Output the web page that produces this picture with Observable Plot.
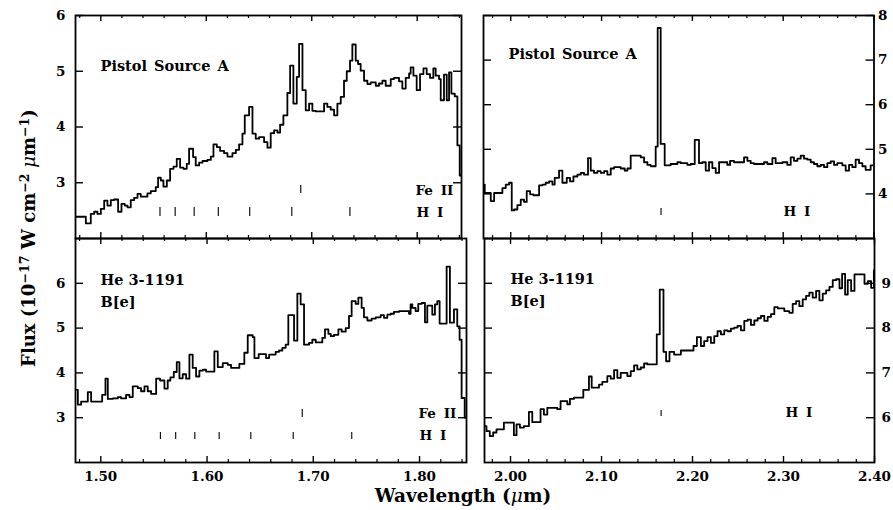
<!DOCTYPE html>
<html><head><meta charset="utf-8">
<script src="https://cdn.jsdelivr.net/npm/d3@7"></script>
<script src="https://cdn.jsdelivr.net/npm/@observablehq/plot@0.6"></script>
<style>
html,body{margin:0;padding:0;background:#fff;}
#chart{position:relative;width:893px;height:510px;overflow:hidden;}
#chart svg{position:absolute;}
</style></head><body><div id="chart"></div>
<script>
// ---------- data (step left edges in µm, flux in 1e-17 W cm^-2 µm^-1) ----------
const tlWave = [1.4760,1.4858,1.4905,1.4937,1.4968,1.5000,1.5032,1.5063,1.5095,1.5126,1.5164,1.5196,1.5227,1.5253,1.5284,1.5316,1.5348,1.5379,1.5442,1.5474,1.5521,1.5543,1.5569,1.5594,1.5626,1.5657,1.5689,1.5720,1.5752,1.5784,1.5815,1.5837,1.5875,1.5900,1.5932,1.5964,1.6011,1.6043,1.6068,1.6100,1.6131,1.6169,1.6201,1.6248,1.6280,1.6311,1.6343,1.6365,1.6406,1.6438,1.6469,1.6501,1.6548,1.6580,1.6611,1.6643,1.6675,1.6700,1.6731,1.6769,1.6795,1.6826,1.6858,1.6880,1.6912,1.6943,1.6975,1.7006,1.7038,1.7117,1.7148,1.7180,1.7212,1.7243,1.7275,1.7306,1.7332,1.7363,1.7385,1.7417,1.7439,1.7464,1.7496,1.7528,1.7559,1.7607,1.7638,1.7670,1.7701,1.7749,1.7780,1.7828,1.7859,1.7891,1.7923,1.7938,1.7964,1.7995,1.8027,1.8059,1.8090,1.8122,1.8153,1.8175,1.8207,1.8223,1.8254,1.8280,1.8302,1.8324,1.8356,1.8381,1.8403,1.8420];
const tlFlux = [2.39,2.27,2.44,2.48,2.44,2.53,2.68,2.59,2.69,2.70,2.48,2.62,2.59,2.56,2.69,2.73,2.80,2.75,2.81,2.85,2.92,3.09,3.04,2.93,3.04,3.25,3.29,3.43,3.27,3.25,3.34,3.61,3.46,3.31,3.36,3.39,3.41,3.47,3.69,3.64,3.57,3.53,3.47,3.53,3.59,3.69,3.88,4.21,4.36,3.88,3.79,3.82,3.73,3.63,3.89,3.94,3.90,4.04,4.21,4.61,5.10,4.42,4.90,5.49,4.66,4.30,4.42,4.29,4.28,4.42,4.36,4.31,4.21,4.42,4.54,4.83,5.00,5.19,5.48,5.19,5.13,5.01,4.83,4.77,4.80,4.74,4.78,4.83,4.74,4.86,4.88,4.82,4.69,4.88,4.96,5.07,4.92,4.66,4.95,5.05,4.95,4.88,5.05,4.92,4.86,4.48,4.94,4.48,4.98,4.60,4.55,3.67,3.13,3.13];

const trWave = [1.9700,1.9714,1.9780,1.9817,1.9908,1.9945,1.9982,2.0011,2.0037,2.0073,2.0110,2.0147,2.0176,2.0213,2.0250,2.0312,2.0349,2.0385,2.0422,2.0459,2.0484,2.0532,2.0569,2.0617,2.0653,2.0690,2.0734,2.0771,2.0807,2.0851,2.0881,2.0917,2.0954,2.0991,2.1028,2.1064,2.1101,2.1138,2.1211,2.1255,2.1284,2.1321,2.1431,2.1468,2.1505,2.1541,2.1596,2.1618,2.1651,2.1695,2.1761,2.1835,2.1872,2.1945,2.1982,2.2026,2.2073,2.2110,2.2147,2.2183,2.2220,2.2257,2.2294,2.2385,2.2415,2.2459,2.2569,2.2606,2.2642,2.2679,2.2789,2.2826,2.2881,2.2917,2.2991,2.3046,2.3083,2.3119,2.3156,2.3193,2.3229,2.3266,2.3303,2.3339,2.3376,2.3413,2.3450,2.3486,2.3523,2.3560,2.3596,2.3651,2.3688,2.3725,2.3761,2.3798,2.3835,2.3872,2.3908,2.3963,2.4000];
const trFlux = [4.21,4.02,3.84,4.02,4.13,4.21,4.25,3.63,3.65,3.75,3.87,3.82,4.06,3.99,3.97,4.19,4.21,4.25,4.28,4.21,4.36,4.52,4.25,4.36,4.28,4.39,4.43,4.47,4.43,4.80,4.52,4.47,4.51,4.47,4.51,4.43,4.57,4.60,4.57,4.52,4.57,4.86,4.82,4.71,4.65,4.62,5.06,7.72,5.12,4.64,4.67,4.71,4.69,4.65,4.67,5.21,4.69,4.71,4.52,4.71,4.58,4.47,4.71,4.65,4.74,4.71,4.82,4.74,4.69,4.67,4.71,4.67,4.80,4.69,4.71,4.65,4.82,4.74,4.79,4.86,4.79,4.77,4.71,4.67,4.62,4.65,4.60,4.69,4.73,4.65,4.69,4.64,4.52,4.65,4.60,4.77,4.69,4.62,4.54,4.64,4.64];

const blWave = [1.4762,1.4784,1.4815,1.4878,1.4909,1.5013,1.5044,1.5066,1.5113,1.5160,1.5191,1.5238,1.5270,1.5301,1.5348,1.5379,1.5411,1.5442,1.5474,1.5521,1.5558,1.5599,1.5630,1.5655,1.5687,1.5715,1.5740,1.5771,1.5803,1.5834,1.5865,1.5897,1.5928,1.5960,1.5991,1.6069,1.6101,1.6148,1.6195,1.6226,1.6304,1.6351,1.6383,1.6430,1.6446,1.6486,1.6555,1.6584,1.6646,1.6678,1.6709,1.6740,1.6765,1.6819,1.6850,1.6881,1.6913,1.6960,1.6991,1.7023,1.7085,1.7110,1.7142,1.7164,1.7195,1.7236,1.7267,1.7305,1.7336,1.7361,1.7399,1.7424,1.7455,1.7477,1.7509,1.7549,1.7587,1.7634,1.7665,1.7697,1.7728,1.7759,1.7807,1.7901,1.7916,1.7932,1.7963,1.7988,1.8020,1.8051,1.8073,1.8120,1.8145,1.8167,1.8189,1.8255,1.8286,1.8324,1.8355,1.8377,1.8396,1.8425,1.8442];
const blFlux = [3.62,3.29,3.36,3.57,3.36,3.51,3.87,3.42,3.43,3.46,3.43,3.51,3.46,3.70,3.66,3.59,3.70,3.59,3.53,3.87,3.83,3.65,3.83,3.90,4.02,4.24,3.88,3.97,3.87,4.41,4.11,3.92,4.05,4.07,4.03,4.48,4.13,4.22,4.18,4.11,4.20,4.45,4.84,4.80,4.33,4.42,4.33,4.41,4.47,4.50,4.56,4.63,5.29,4.72,5.77,5.53,4.63,4.67,4.74,4.68,4.78,4.97,4.87,4.82,4.85,4.97,4.92,5.00,5.27,5.60,5.54,5.68,5.45,5.24,5.17,5.21,5.24,5.29,5.23,5.30,5.32,5.36,5.38,5.32,5.53,5.45,5.38,5.54,5.56,5.13,5.50,5.30,5.53,5.60,5.10,6.37,5.12,5.42,5.04,4.74,3.44,3.00,3.00];

const brWave = [1.9706,1.9736,1.9772,1.9809,1.9846,1.9927,2.0037,2.0066,2.0103,2.0147,2.0202,2.0239,2.0330,2.0367,2.0404,2.0514,2.0550,2.0624,2.0653,2.0697,2.0800,2.0862,2.0892,2.0972,2.1009,2.1064,2.1101,2.1138,2.1174,2.1211,2.1284,2.1321,2.1358,2.1394,2.1431,2.1468,2.1505,2.1607,2.1640,2.1681,2.1710,2.1747,2.1798,2.1872,2.2011,2.2048,2.2092,2.2128,2.2165,2.2202,2.2239,2.2275,2.2312,2.2349,2.2385,2.2422,2.2459,2.2495,2.2532,2.2569,2.2606,2.2642,2.2679,2.2716,2.2752,2.2789,2.2826,2.2862,2.2899,2.2936,2.3009,2.3064,2.3101,2.3138,2.3174,2.3211,2.3248,2.3284,2.3321,2.3358,2.3394,2.3431,2.3468,2.3505,2.3541,2.3578,2.3615,2.3644,2.3677,2.3706,2.3743,2.3780,2.3890,2.3927,2.3963,2.3993,2.4000];
const brFlux = [5.81,5.70,5.59,5.67,5.74,5.89,5.61,5.85,5.78,5.81,6.13,5.90,6.19,6.07,6.22,6.19,6.37,6.30,6.42,6.45,6.62,6.92,6.67,6.74,6.80,6.93,6.87,7.06,6.89,7.00,6.93,7.04,7.17,7.08,7.12,7.21,7.19,7.86,8.86,7.47,7.26,7.47,7.41,7.50,7.60,7.80,7.60,7.71,7.80,7.67,7.82,7.93,7.86,7.95,7.93,7.99,8.01,8.05,7.95,8.16,8.19,8.07,8.17,8.22,8.27,8.16,8.25,8.31,8.47,8.44,8.38,8.34,8.54,8.60,8.49,8.64,8.72,8.79,8.68,8.83,8.62,8.77,8.84,8.92,9.07,9.09,8.89,9.21,8.75,9.07,8.83,9.20,8.99,9.05,8.90,9.29,9.29];

// line identifications (µm)
const hLinesH = [1.5561,1.5705,1.5885,1.6114,1.6412,1.6811,1.7362];
const feLinesH = [1.6896];
const hLinesK = [2.1655];

// axis ticks
const hMajor = [1.50,1.60,1.70,1.80];
const hMinor = [1.48,1.52,1.54,1.56,1.58,1.62,1.64,1.66,1.68,1.72,1.74,1.76,1.78,1.82,1.84];
const kMajor = [2.00,2.10,2.20,2.30,2.40];
const kMinor = [1.98,2.02,2.04,2.06,2.08,2.12,2.14,2.16,2.18,2.22,2.24,2.26,2.28,2.32,2.34,2.36,2.38];
const tlYTicks = [3,4,5,6], blYTicks = [3,4,5,6];
const trYTicks = [4,5,6,7,8], brYTicks = [6,7,8,9];

const labelTop = "Pistol Source A";
const labelBot = ["He 3-1191", "B[e]"];
const labelFe = "Fe II", labelH = "H I";

const FONT = "DejaVu Serif";
const root = document.getElementById("chart");

function panel(o) {
  const data = o.wave.map((w, i) => ({w, f: o.flux[i]}));
  const iw = o.width - o.mL - o.mR, ih = o.height - o.mT - o.mB;
  const txt = (s, dx, dy, size) => Plot.text([s], {frameAnchor: "top-left", dx, dy, textAnchor: "start", lineAnchor: "middle", fontSize: size, fontWeight: "bold", fill: "black"});
  const marks = [
    Plot.ruleX(o.xMajor, {insetTop: ih - 6, strokeWidth: 1.4}),
    Plot.ruleX(o.xMajor, {insetBottom: ih - 6, strokeWidth: 1.4}),
    Plot.ruleX(o.xMinor, {insetTop: ih - 3, strokeWidth: 1.2}),
    Plot.ruleX(o.xMinor, {insetBottom: ih - 3, strokeWidth: 1.2}),
    Plot.ruleY(o.yTicks, {insetRight: iw - 8, strokeWidth: 1.4}),
    Plot.ruleY(o.yTicks, {insetLeft: iw - 8, strokeWidth: 1.4}),
    Plot.ruleX(o.hLines, {insetTop: o.hInset[0], insetBottom: o.hInset[1], strokeWidth: 1.1}),
    o.feLines ? Plot.ruleX(o.feLines, {insetTop: o.feInset[0], insetBottom: o.feInset[1], strokeWidth: 1.1}) : null,
    Plot.line(data, {x: "w", y: "f", curve: "step-after", stroke: "black", strokeWidth: 1.8, clip: true}),
    Plot.frame({stroke: "black", strokeWidth: 1.8}),
    Plot.axisY(o.yTicks, {anchor: o.ySide, tickSize: 0, tickPadding: o.yPad, label: null, tickFormat: d => String(d)}),
    o.showX ? Plot.axisX(o.xMajor, {anchor: "bottom", tickSize: 0, tickPadding: 9, label: null, tickFormat: d3.format(".2f")}) : null,
    ...o.texts.map(t => txt(...t)),
  ];
  const svg = Plot.plot({
    width: o.width, height: o.height,
    marginLeft: o.mL, marginRight: o.mR, marginTop: o.mT, marginBottom: o.mB,
    x: {domain: o.xDomain, axis: null},
    y: {domain: o.yDomain, axis: null},
    style: {fontFamily: FONT, fontSize: "13.5px", fontWeight: "bold", background: "transparent", color: "black", overflow: "visible"},
    marks
  });
  d3.select(svg).selectAll("text").filter(function() { return this.textContent === labelFe || this.textContent === labelH; })
    .style("word-spacing", "3px");
  d3.select(svg).selectAll("text").filter(function() { return this.textContent === labelTop; })
    .style("word-spacing", "2px");
  svg.style.left = o.left + "px";
  svg.style.top = o.top + "px";
  root.appendChild(svg);
}

// top-left
panel({wave: tlWave, flux: tlFlux, left: 0, top: 0, width: 470, height: 245, mL: 75, mR: 9, mT: 15, mB: 7,
  xDomain: [1.4760, 1.8420], yDomain: [2, 6], xMajor: hMajor, xMinor: hMinor, yTicks: tlYTicks, ySide: "left", yPad: 10,
  hLines: hLinesH, hInset: [192, 22], feLines: feLinesH, feInset: [170, 45], showX: false,
  texts: [[labelTop, 25, 51, 14.5], [labelFe, 340, 175, 13.5], [labelH, 341, 197, 13.5]]});
// top-right
panel({wave: trWave, flux: trFlux, left: 470, top: 0, width: 423, height: 245, mL: 13, mR: 19.5, mT: 15, mB: 7,
  xDomain: [1.9700, 2.4000], yDomain: [3, 8], xMajor: kMajor, xMinor: kMinor, yTicks: trYTicks, ySide: "right", yPad: 4,
  hLines: hLinesK, hInset: [193, 23], showX: false,
  texts: [[labelTop, 25, 39, 14.5], [labelH, 300, 196, 13.5]]});
// bottom-left
panel({wave: blWave, flux: blFlux, left: 0, top: 230, width: 470, height: 280, mL: 75, mR: 4, mT: 8, mB: 48,
  xDomain: [1.4762, 1.8442], yDomain: [2, 7], xMajor: hMajor, xMinor: hMinor, yTicks: blYTicks, ySide: "left", yPad: 10,
  hLines: hLinesH, hInset: [194, 23], feLines: feLinesH, feInset: [171, 45], showX: true,
  texts: [[labelBot[0], 25, 42, 14.5], [labelBot[1], 25, 64, 14.5], [labelFe, 343, 175, 13.5], [labelH, 344, 197, 13.5]]});
// bottom-right
panel({wave: brWave, flux: brFlux, left: 470, top: 230, width: 423, height: 280, mL: 14, mR: 19, mT: 8, mB: 48,
  xDomain: [1.9714, 2.4000], yDomain: [5, 10], xMajor: kMajor, xMinor: kMinor, yTicks: brYTicks, ySide: "right", yPad: 7,
  hLines: hLinesK, hInset: [172, 46], showX: true,
  texts: [[labelBot[0], 26, 41, 14.5], [labelBot[1], 26, 63, 14.5], [labelH, 301, 174, 13.5]]});

// axis titles
const ov = d3.select(root).append("svg").attr("width", 893).attr("height", 510)
  .style("left", "0px").style("top", "0px")
  .attr("font-family", FONT).attr("font-weight", "bold").attr("fill", "black");
const yt = ov.append("text").attr("transform", "translate(35,238) rotate(-90)").attr("text-anchor", "middle").attr("font-size", 18);
const sup = (sel, s) => { sel.append("tspan").attr("dy", "-0.5em").attr("font-size", "0.7em").text(s); };
const base = (sel, s) => { sel.append("tspan").attr("dy", "0.35em").text(s); };
yt.append("tspan").text("Flux (10");
sup(yt, "\u221217");
base(yt, " W cm");
sup(yt, "\u22122");
yt.append("tspan").attr("dy", "0.35em").attr("font-style", "italic").attr("font-weight", "normal").text(" \u03bc");
yt.append("tspan").text("m");
sup(yt, "\u22121");
base(yt, ")");
const xt = ov.append("text").attr("x", 463).attr("y", 502).attr("text-anchor", "middle").attr("font-size", 18.5);
xt.append("tspan").text("Wavelength (");
xt.append("tspan").attr("font-style", "italic").attr("font-weight", "normal").text("\u03bc");
xt.append("tspan").text("m)");
</script></body></html>
